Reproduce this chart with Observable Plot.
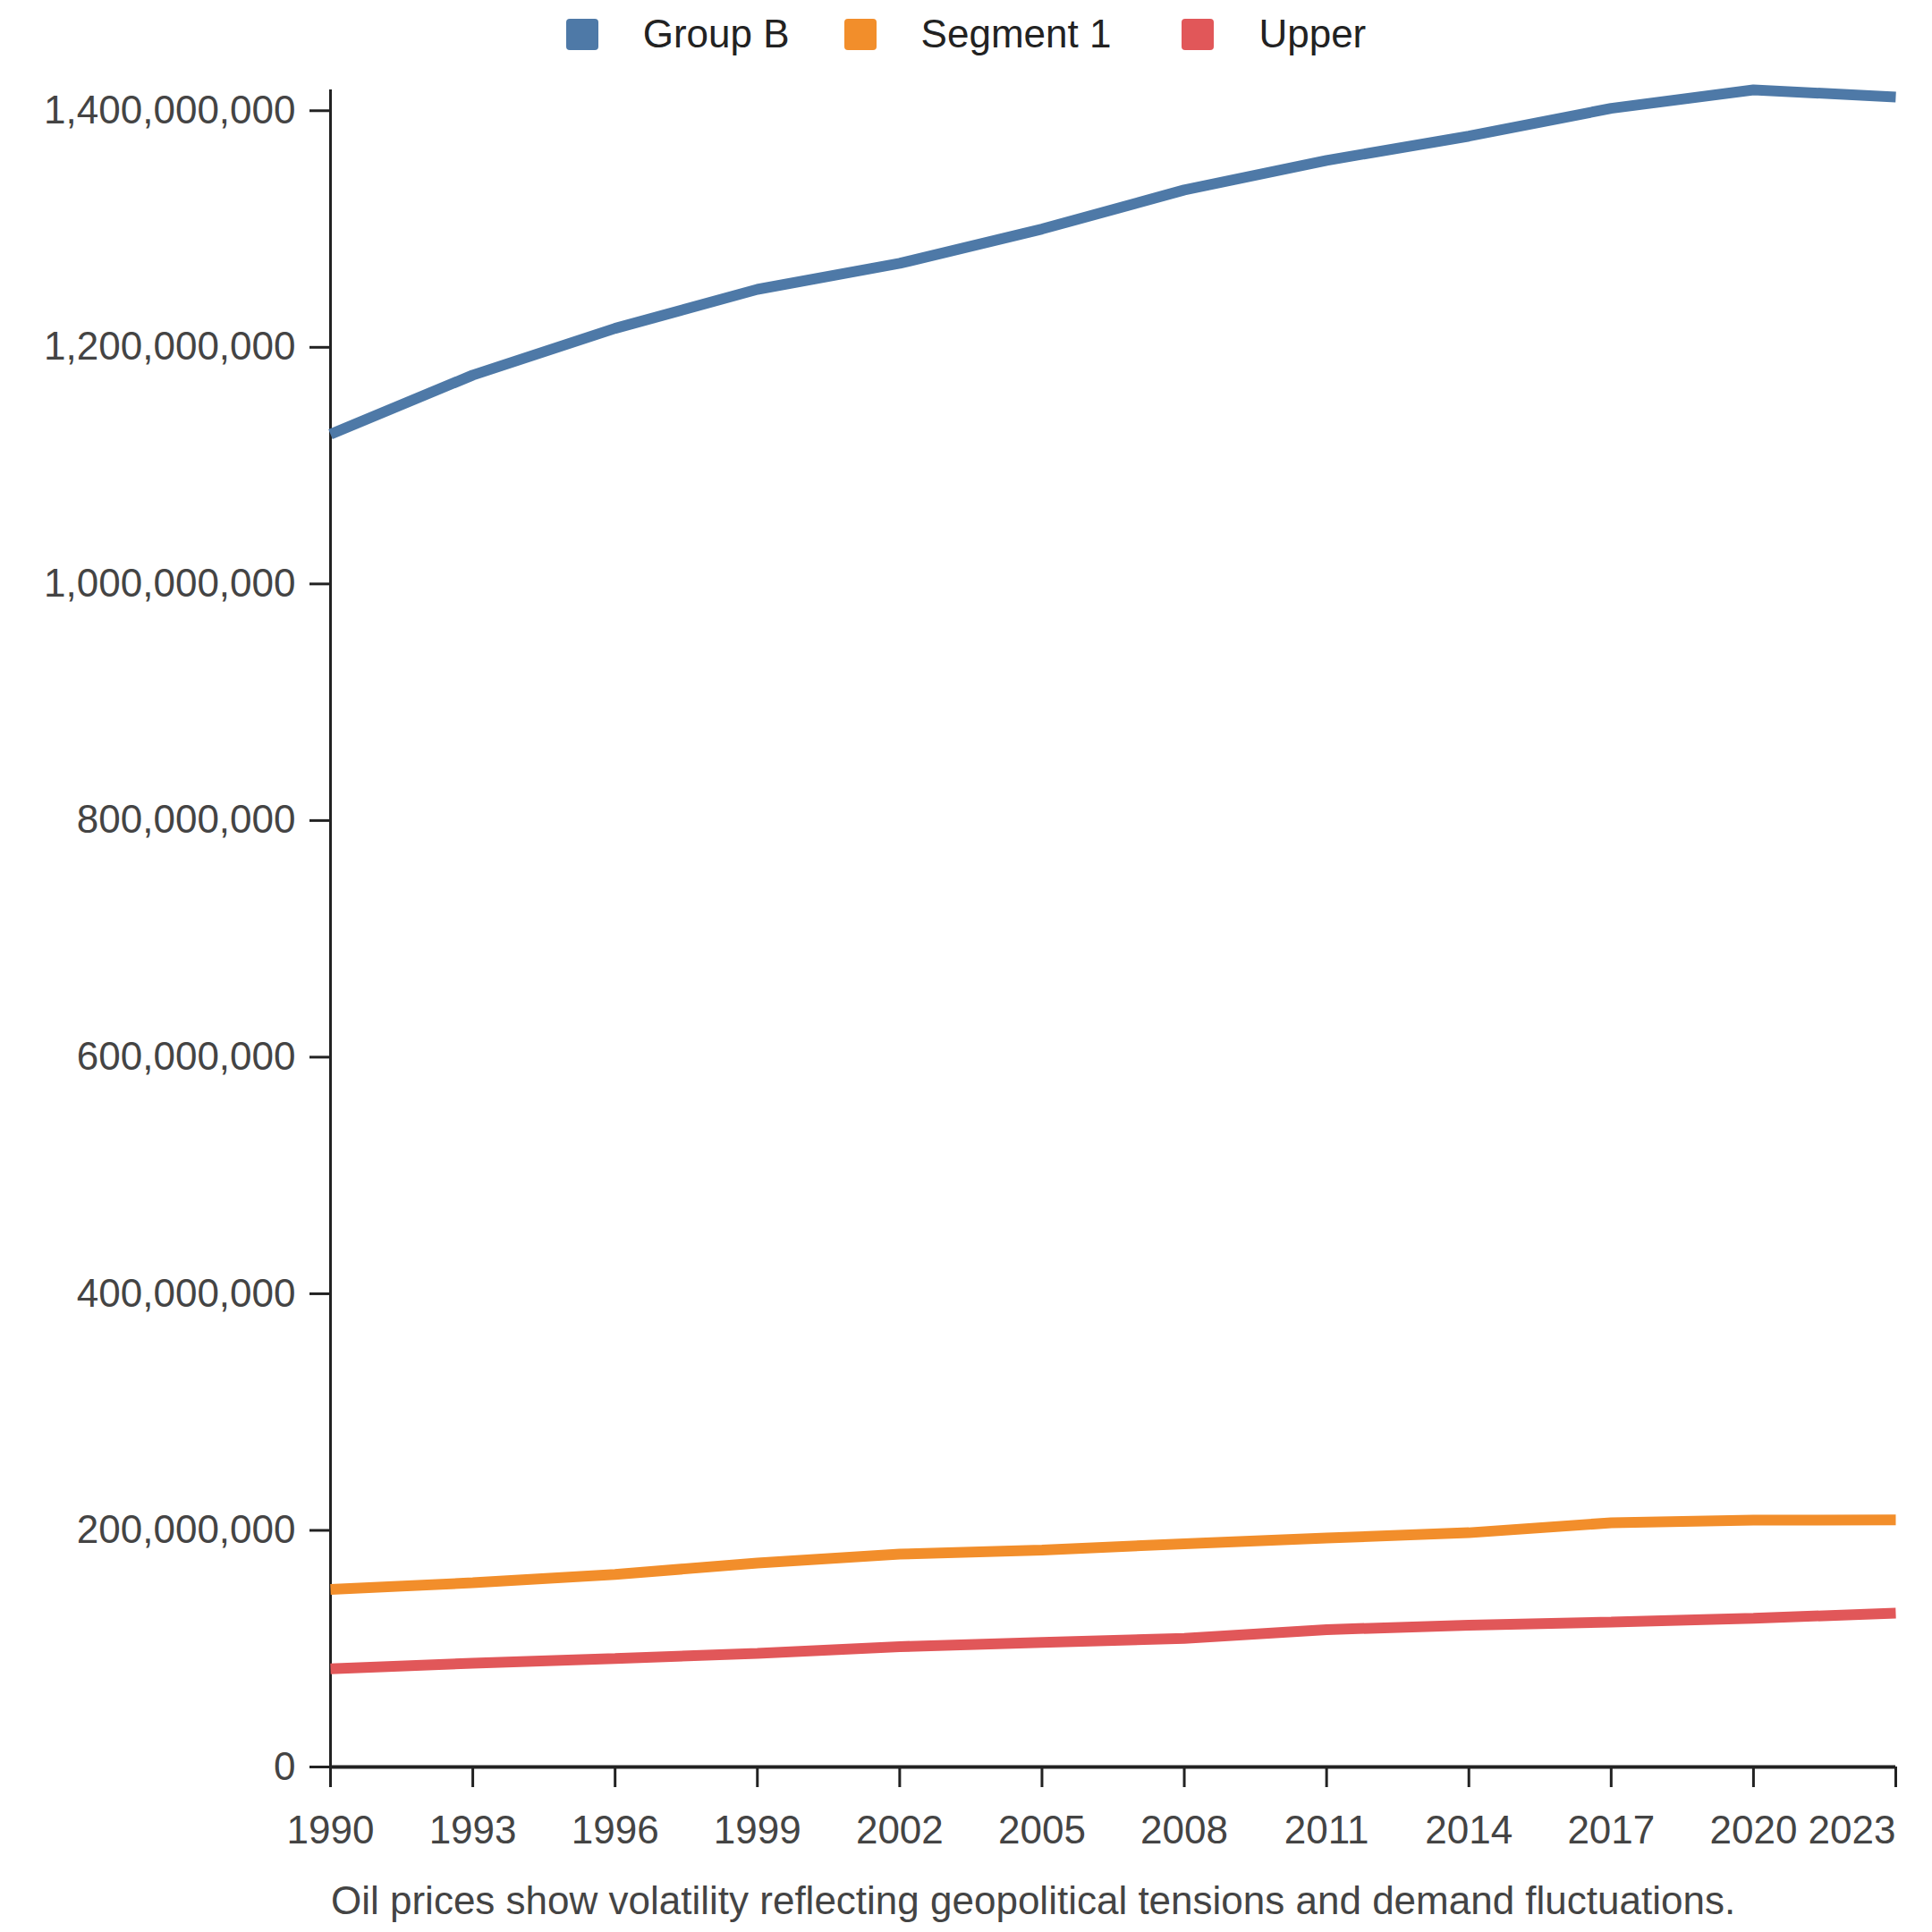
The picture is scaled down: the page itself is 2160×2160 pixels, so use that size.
<!DOCTYPE html>
<html>
<head>
<meta charset="utf-8">
<script src="https://cdn.jsdelivr.net/npm/d3@7"></script>
<script src="https://cdn.jsdelivr.net/npm/@observablehq/plot@0.6"></script>
<style>
  html, body { margin: 0; padding: 0; background: #fff; }
  body { width: 2160px; font-family: "Liberation Sans", Arial, sans-serif; }
  #legend { height: 76px; display: flex; justify-content: center; align-items: center; font-size: 44px; color: #222; }
  .item { display: flex; align-items: center; }
  .sw { width: 36px; height: 35px; border-radius: 4px; margin-right: 50px; }
  #caption { height: 70px; line-height: 70px; padding-left: 370px; font-size: 44px; color: #444; }
  svg { display: block; }
</style>
</head>
<body>
<div id="legend"></div>
<div id="chart"></div>
<div id="caption"></div>
<script>
const years = [1990, 1993, 1996, 1999, 2002, 2005, 2008, 2011, 2014, 2017, 2020, 2023];
const seriesNames = ["Group B", "Segment 1", "Upper"];
const seriesColors = ["#4e79a7", "#f28e2b", "#e15759"];
const groupB = [1126500000, 1176500000, 1216000000, 1249000000, 1271000000, 1300000000, 1333000000, 1358000000, 1378500000, 1402000000, 1417600000, 1411600000];
const segment1 = [150100000, 155700000, 162800000, 172300000, 179900000, 183400000, 188700000, 193500000, 198000000, 206400000, 208600000, 208900000];
const upper = [82900000, 87700000, 91700000, 96000000, 101700000, 105300000, 108600000, 116100000, 119900000, 122500000, 125700000, 130000000];
const yTicks = [0, 200000000, 400000000, 600000000, 800000000, 1000000000, 1200000000, 1400000000];
const captionText = "Oil prices show volatility reflecting geopolitical tensions and demand fluctuations.";

const seriesValues = [groupB, segment1, upper];
const data = [];
seriesNames.forEach((name, i) => {
  years.forEach((yr, j) => data.push({series: name, year: yr, value: seriesValues[i][j]}));
});
const yMax = d3.max(data, d => d.value);

// legend
const legend = document.getElementById("legend");
const itemGaps = [61, 79, 0];
seriesNames.forEach((name, i) => {
  const it = document.createElement("div");
  it.className = "item";
  it.style.marginRight = itemGaps[i] + "px";
  const sw = document.createElement("div");
  sw.className = "sw";
  sw.style.background = seriesColors[i];
  const tx = document.createElement("span");
  tx.textContent = name;
  it.appendChild(sw); it.appendChild(tx);
  legend.appendChild(it);
});

const lastYear = years[years.length - 1];
const chart = Plot.plot({
  width: 2160,
  height: 2014,
  marginLeft: 369,
  marginRight: 41,
  marginTop: 24,
  marginBottom: 115,
  style: {fontFamily: "'Liberation Sans', Arial, sans-serif", fontSize: "44px", background: "#fff"},
  x: {domain: [years[0], lastYear]},
  y: {domain: [0, yMax]},
  color: {domain: seriesNames, range: seriesColors},
  marks: [
    Plot.axisX({ticks: years.slice(0, -1), tickFormat: "d", tickSize: 23, tickPadding: 31, stroke: "#222", strokeWidth: 3, fill: "#444", label: null, fontSize: 44}),
    Plot.axisX({ticks: [lastYear], tickFormat: "d", tickSize: 23, tickPadding: 31, stroke: "#222", strokeWidth: 3, fill: "#444", label: null, fontSize: 44, textAnchor: "end"}),
    Plot.axisY({ticks: yTicks, tickFormat: d3.format(","), tickSize: 23, tickPadding: 16, stroke: "#222", strokeWidth: 3, fill: "#444", label: null, fontSize: 44}),
    Plot.ruleX([years[0]], {stroke: "#222", strokeWidth: 3}),
    Plot.ruleY([0], {stroke: "#222", strokeWidth: 4}),
    Plot.line(data, {x: "year", y: "value", z: "series", stroke: "series", strokeWidth: 12, strokeLinecap: "butt", strokeLinejoin: "miter"})
  ]
});
document.getElementById("chart").appendChild(chart);
document.getElementById("caption").textContent = captionText;
</script>
</body>
</html>
